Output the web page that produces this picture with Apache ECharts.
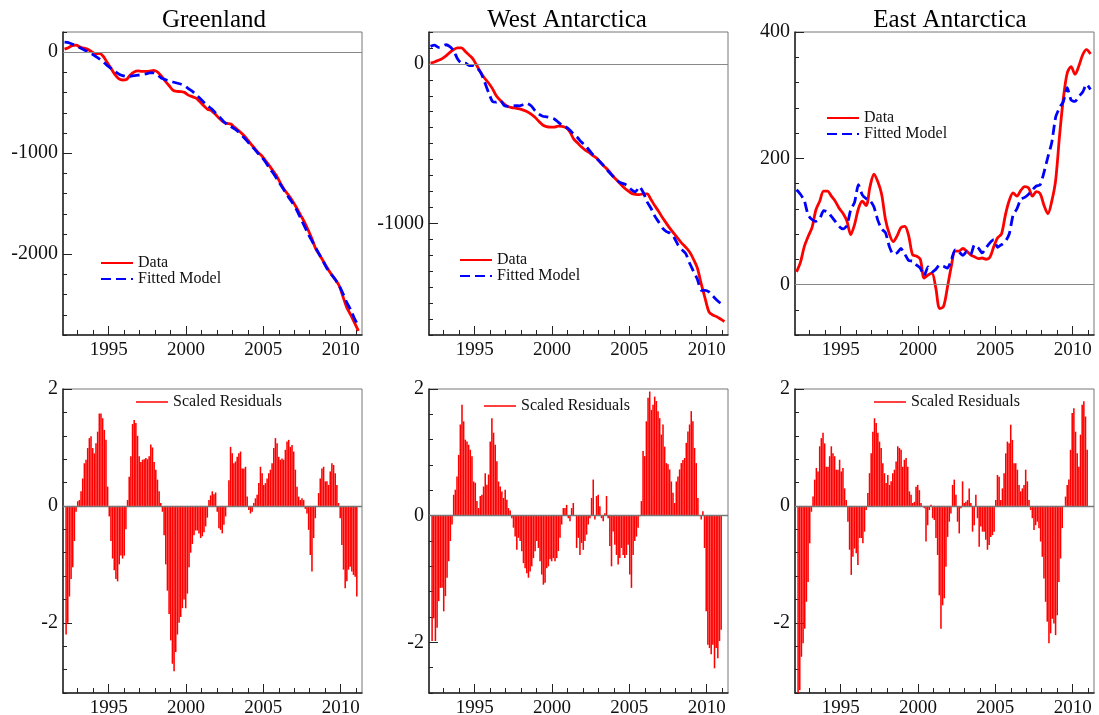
<!DOCTYPE html>
<html>
<head>
<meta charset="utf-8">
<script src="https://cdn.jsdelivr.net/npm/echarts@6/dist/echarts.min.js"></script>
</head>
<body style="margin:0;background:#fff">
<div id="container" style="width:1099px;height:715px"></div>
<script>
// sampling of the curves (years)
var lineStart = 1992.15, lineStep = 0.25;   // top panels, quarterly
var resStart = 1992.25, resStep = 0.1074;   // residual bars

// top row: cumulative mass change
var greenlandData = [30,45,65,70,50,40,28,5,-15,-12,
  -40,-100,-160,-220,-262,-275,-270,-225,-195,-185,
  -190,-190,-187,-180,-195,-235,-285,-330,-375,-388,
  -390,-398,-425,-440,-455,-490,-530,-565,-580,-615,
  -655,-690,-705,-712,-745,-775,-810,-850,-900,-945,
  -990,-1025,-1075,-1125,-1180,-1235,-1310,-1370,-1420,-1475,
  -1540,-1610,-1680,-1760,-1850,-1950,-2010,-2075,-2140,-2200,
  -2250,-2310,-2420,-2530,-2600,-2680,-2760];
var greenlandModel = [100,95,80,65,45,25,5,-15,-40,-65,
  -95,-130,-160,-190,-215,-232,-240,-238,-232,-228,
  -222,-215,-205,-205,-225,-255,-270,-285,-295,-305,
  -315,-330,-360,-385,-420,-455,-495,-530,-560,-600,
  -640,-680,-715,-735,-760,-790,-830,-870,-915,-955,
  -1000,-1040,-1090,-1150,-1200,-1260,-1320,-1380,-1440,-1495,
  -1560,-1640,-1720,-1800,-1870,-1940,-2010,-2080,-2150,-2200,
  -2250,-2310,-2390,-2480,-2550,-2640,-2710];

var westData = [5,12,22,33,50,72,90,100,100,78,
  55,30,-12,-55,-90,-120,-155,-200,-228,-250,
  -267,-274,-277,-282,-290,-300,-315,-335,-360,-383,
  -393,-396,-396,-390,-392,-400,-425,-470,-495,-520,
  -540,-555,-575,-592,-620,-645,-668,-700,-725,-750,
  -775,-795,-812,-818,-820,-815,-815,-850,-890,-925,
  -965,-1000,-1035,-1065,-1095,-1125,-1150,-1180,-1225,-1280,
  -1380,-1470,-1555,-1575,-1585,-1600,-1615];
var westModel = [110,118,104,110,120,108,82,30,5,5,
  -10,-10,-25,-55,-115,-180,-235,-240,-228,-260,
  -266,-265,-262,-263,-255,-248,-263,-292,-315,-328,
  -332,-337,-345,-365,-385,-396,-415,-440,-462,-490,
  -512,-540,-570,-595,-618,-645,-675,-700,-725,-744,
  -752,-765,-790,-802,-770,-805,-865,-905,-955,-992,
  -1030,-1052,-1062,-1090,-1135,-1165,-1190,-1250,-1300,-1350,
  -1420,-1420,-1430,-1455,-1480,-1500,-1508];

var eastData = [20,35,60,76,90,118,132,148,148,140,
  132,121,113,101,79,95,120,132,125,155,
  175,163,143,103,80,68,77,90,92,77,
  47,45,40,10,15,18,-5,-38,-35,-5,
  28,53,53,57,53,47,44,41,42,40,
  43,60,74,80,110,133,145,140,149,155,
  153,140,147,144,125,112,132,165,235,295,
  335,345,333,346,364,372,365];
var eastModel = [150,143,133,110,103,100,104,117,115,108,
  100,92,88,93,118,130,158,142,136,133,
  123,102,88,82,60,48,50,57,48,38,
  37,31,26,14,28,20,24,31,29,26,
  38,55,52,46,52,47,63,58,50,58,
  66,71,59,63,68,80,110,120,135,138,
  143,150,156,158,178,202,225,265,280,290,
  312,292,290,298,305,317,309];

// bottom row: scaled residuals
var greenlandRes = [-2.2,-2.0,-1.55,-1.25,-1.05,-0.6,-0.1,0.08,0.1,0.25,
  0.47,0.73,0.79,0.99,1.16,1.19,0.99,0.9,1.07,1.27,
  1.58,1.58,1.5,1.3,1.13,0.33,-0.18,-0.6,-0.9,-1.1,
  -1.25,-1.29,-1.0,-0.85,-0.9,-0.85,-0.4,0.1,0.5,0.85,
  1.4,1.47,1.42,1.2,0.85,0.75,0.79,0.8,0.82,0.8,
  0.85,1.05,1.0,0.75,0.62,0.45,0.25,0.05,-0.1,-0.5,
  -1.0,-1.45,-1.85,-2.3,-2.7,-2.83,-2.5,-2.2,-2.0,-1.9,
  -1.75,-1.6,-1.75,-1.5,-1.05,-0.8,-0.65,-0.5,-0.42,-0.42,
  -0.47,-0.55,-0.52,-0.45,-0.35,-0.2,0.1,0.18,0.25,
  0.2,0.23,-0.1,-0.38,-0.41,-0.47,-0.32,-0.18,0.0,0.44,
  1.01,0.9,0.73,0.76,0.84,0.9,0.93,0.64,0.64,0.67,
  0.16,-0.07,-0.13,-0.1,0.05,0.13,0.19,0.39,0.67,0.56,
  0.36,0.39,0.47,0.56,0.62,0.73,0.99,1.16,1.07,0.84,
  0.79,0.81,0.79,0.96,1.1,1.13,1.01,1.04,0.93,0.62,
  0.33,0.16,0.1,0.13,0.1,-0.05,-0.13,-0.41,-0.84,-1.12,
  -0.55,-0.21,0.0,0.22,0.47,0.64,0.67,0.42,0.42,0.36,
  0.59,0.73,0.7,0.56,0.36,0.05,-0.21,-0.67,-1.09,-1.41,
  -1.29,-1.09,-1.04,-1.12,-1.18,-1.21,-1.55];

var westRes = [-1.98,-1.62,-1.98,-1.77,-1.35,-1.14,-1.14,-1.51,-1.27,-0.98,
  -0.72,-0.4,-0.14,0.33,0.41,0.62,0.96,1.44,1.75,1.49,
  1.2,1.17,1.12,1.04,0.94,0.54,0.52,0.23,0.12,0.31,
  0.33,0.46,0.67,0.49,0.65,1.17,1.54,1.31,1.12,0.86,
  0.54,0.46,0.38,0.28,0.41,0.25,0.12,0.08,-0.04,-0.19,
  -0.33,-0.54,-0.35,-0.4,-0.56,-0.75,-0.83,-0.91,-0.98,-0.88,
  -0.8,-0.67,-0.56,-0.4,-0.51,-0.72,-0.93,-1.09,-1.06,-0.83,
  -0.8,-0.69,-0.72,-0.67,-0.72,-0.67,-0.56,-0.35,-0.14,0.12,
  0.12,0.17,-0.04,-0.09,0.12,0.2,0.0,-0.51,-0.35,
  -0.62,-0.43,-0.54,-0.4,-0.3,-0.14,-0.04,0.28,0.57,-0.06,
  0.31,0.33,0.15,-0.04,-0.09,0.04,0.31,-0.04,-0.48,-0.8,
  -0.25,-0.46,-0.62,-0.77,-0.67,-0.51,-0.62,-0.67,-0.62,-0.46,
  -0.93,-1.14,-0.62,-0.4,-0.33,-0.19,-0.01,0.23,1.02,0.94,
  1.49,1.86,1.96,1.67,1.75,1.88,1.81,1.65,1.54,1.28,
  1.44,1.09,0.83,0.81,0.73,0.54,0.36,0.2,0.54,0.62,
  0.73,0.83,0.88,0.91,1.15,1.33,1.44,1.65,1.49,1.07,
  0.83,0.28,0.0,-0.06,0.07,-0.51,-1.51,-2.04,-2.09,-2.19,
  -2.04,-2.41,-2.09,-2.25,-1.98,-1.8];

var eastRes = [-3.3,-3.15,-2.58,-2.35,-2.1,-1.64,-1.3,-0.64,-0.1,0.16,
  0.45,0.65,0.59,1.02,1.16,1.25,1.07,0.67,0.67,0.85,
  1.02,0.9,0.85,0.62,0.62,0.79,0.59,0.65,0.3,0.1,
  -0.27,-0.75,-1.18,-0.87,-0.73,-0.81,-1.01,-0.55,-0.55,-0.64,
  -0.44,-0.07,0.22,0.56,0.9,1.27,1.5,1.42,1.25,1.1,
  0.99,0.73,0.56,0.39,0.53,0.36,0.42,0.56,0.62,0.76,
  1.02,0.99,0.96,0.67,0.79,0.82,0.67,0.25,0.19,0.05,
  0.07,0.33,0.36,0.27,0.05,-0.01,-0.04,-0.61,-0.33,-0.07,
  0.02,-0.21,-0.24,-0.55,-0.84,-1.53,-2.1,-1.7,-1.58,
  -1.04,-0.53,-0.27,-0.13,0.36,0.45,0.19,-0.27,-0.47,-0.04,
  0.42,0.05,0.07,0.1,0.3,0.05,-0.44,-0.33,0.19,-0.21,
  -0.7,-0.35,-0.44,-0.44,-0.58,-0.75,-0.67,-0.53,-0.5,-0.44,
  0.1,0.53,0.5,0.1,0.3,0.56,0.9,1.1,1.07,1.39,
  1.13,0.73,0.73,0.62,0.36,0.25,0.3,0.36,0.62,0.42,
  0.1,-0.07,-0.21,-0.41,-0.33,-0.27,-0.38,-0.61,-0.87,-1.24,
  -1.64,-1.98,-2.35,-2.18,-1.93,-2.01,-2.21,-1.87,-1.3,-0.9,
  -0.38,-0.01,0.16,0.36,0.45,0.96,1.59,1.67,1.27,0.9,
  0.67,1.22,1.73,1.79,1.53,0.96];

var regions = ['Greenland', 'West Antarctica', 'East Antarctica'];
var yearLabels = [1995, 2000, 2005, 2010];

var FONT = '"Liberation Serif", "Times New Roman", serif';
var X_MIN = 1992.05, X_MAX = 2011.38;

function seq(start, step, n) {
  var out = [];
  for (var i = 0; i < n; i++) out.push(+(start + i * step).toFixed(4));
  return out;
}
function pairs(start, step, vals) {
  var t = seq(start, step, vals.length);
  return vals.map(function (v, i) { return [t[i], v]; });
}
var minorYears = seq(1993, 1, 19);

// layout of the six plot boxes
var cols = [63, 429, 795];
var titleX = [214, 567, 950];
var panels = [
  { col: 0, top: 32, h: 303, min: -2800, max: 200, step: 200, labels: [-2000, -1000, 0], data: greenlandData, model: greenlandModel, legend: [100, 255] },
  { col: 1, top: 32, h: 303, min: -1700, max: 200, step: 100, labels: [-1000, 0], data: westData, model: westModel, legend: [459, 252] },
  { col: 2, top: 32, h: 303, min: -80, max: 400, step: 40, labels: [0, 200, 400], data: eastData, model: eastModel, legend: [826, 110] },
  { col: 0, top: 389, h: 304, min: -3.2, max: 2, step: 0.4, labels: [-2, 0, 2], res: greenlandRes, legend: [136, 394] },
  { col: 1, top: 389, h: 304, min: -2.8, max: 2, step: 0.4, labels: [-2, 0, 2], res: westRes, legend: [484, 398] },
  { col: 2, top: 389, h: 304, min: -3.2, max: 2, step: 0.4, labels: [-2, 0, 2], res: eastRes, legend: [874, 394] }
];

var grid = [], xAxis = [], yAxis = [], series = [], legend = [], title = [];
var axisColor = '#222';
var labelStyle = { fontFamily: FONT, fontSize: 19, color: '#111', formatter: function (v) { return String(v); } };

panels.forEach(function (p, g) {
  grid.push({ left: cols[p.col], top: p.top, width: 299, height: p.h, show: true,
    borderColor: '#777', borderWidth: 1, containLabel: false, outerBoundsMode: 'none' });

  var yMinor = [];
  var n = Math.round((p.max - p.min) / p.step);
  for (var i = 0; i <= n; i++) yMinor.push(+(p.min + i * p.step).toFixed(3));

  xAxis.push({ gridIndex: g, type: 'value', min: X_MIN, max: X_MAX, position: 'bottom',
    axisLine: { show: true, onZero: false, lineStyle: { color: axisColor, width: 1.5 } },
    axisTick: { show: true, inside: true, length: 5, customValues: minorYears, lineStyle: { color: axisColor } },
    axisLabel: Object.assign({ customValues: yearLabels, margin: 6 }, labelStyle),
    splitLine: { show: false } });
  xAxis.push({ gridIndex: g, type: 'value', min: X_MIN, max: X_MAX, position: 'bottom',
    axisLine: { show: false, onZero: false },
    axisTick: { show: true, inside: true, length: 9, customValues: yearLabels, lineStyle: { color: axisColor } },
    axisLabel: { show: false }, splitLine: { show: false } });

  yAxis.push({ gridIndex: g, type: 'value', min: p.min, max: p.max, position: 'left',
    axisLine: { show: true, onZero: false, lineStyle: { color: axisColor, width: 1.5 } },
    axisTick: { show: true, inside: true, length: 4, customValues: yMinor, lineStyle: { color: axisColor } },
    axisLabel: Object.assign({ customValues: p.labels, margin: 5 }, labelStyle, { fontSize: 20 }),
    splitLine: { show: false } });
  yAxis.push({ gridIndex: g, type: 'value', min: p.min, max: p.max, position: 'left',
    axisLine: { show: false, onZero: false },
    axisTick: { show: true, inside: true, length: 9, customValues: p.labels, lineStyle: { color: axisColor } },
    axisLabel: { show: false }, splitLine: { show: false } });

  var zeroLine = { silent: true, symbol: 'none', label: { show: false }, animation: false,
    lineStyle: { color: '#888', width: 1, type: 'solid' }, data: [{ yAxis: 0 }] };

  if (p.data) {
    title.push({ text: regions[p.col], left: titleX[p.col], top: 8, textAlign: 'center', padding: 0,
      textStyle: { fontFamily: FONT, fontSize: 25, fontWeight: 'normal', color: '#000' } });
    series.push({ name: 'Data', type: 'line', xAxisIndex: 2 * g, yAxisIndex: 2 * g,
      data: pairs(lineStart, lineStep, p.data), symbol: 'none', smooth: 0.3,
      lineStyle: { color: '#ff0000', width: 2.8 }, itemStyle: { color: '#ff0000' }, markLine: zeroLine });
    series.push({ name: 'Fitted Model', type: 'line', xAxisIndex: 2 * g, yAxisIndex: 2 * g,
      data: pairs(lineStart, lineStep, p.model), symbol: 'none', smooth: 0.2,
      lineStyle: { color: '#0000ff', width: 2.8, type: [10, 5] }, itemStyle: { color: '#0000ff' } });
    legend.push({ left: p.legend[0], top: p.legend[1], orient: 'vertical', padding: 0,
      itemWidth: 32, itemHeight: 14, itemGap: 0, data: ['Data', 'Fitted Model'],
      itemStyle: { color: 'rgba(0,0,0,0)', borderWidth: 0, opacity: 0 },
      textStyle: { fontFamily: FONT, fontSize: 16, color: '#111' } });
  } else {
    zeroLine.lineStyle = { color: '#777', width: 1.3, type: 'solid' };
    series.push({ name: 'Scaled Residuals', type: 'bar', xAxisIndex: 2 * g, yAxisIndex: 2 * g,
      data: pairs(resStart, resStep, p.res), barWidth: 1.55,
      itemStyle: { color: '#ff0000' }, markLine: zeroLine });
    legend.push({ left: p.legend[0], top: p.legend[1], padding: 0,
      itemWidth: 32, itemHeight: 1.5, data: [{ name: 'Scaled Residuals', icon: 'rect' }],
      textStyle: { fontFamily: FONT, fontSize: 16, color: '#111' } });
  }
});

var chart = echarts.init(document.getElementById('container'), null, { renderer: 'canvas' });
chart.setOption({
  animation: false,
  backgroundColor: '#fff',
  title: title,
  legend: legend,
  grid: grid,
  xAxis: xAxis,
  yAxis: yAxis,
  series: series
});
</script>
</body>
</html>
